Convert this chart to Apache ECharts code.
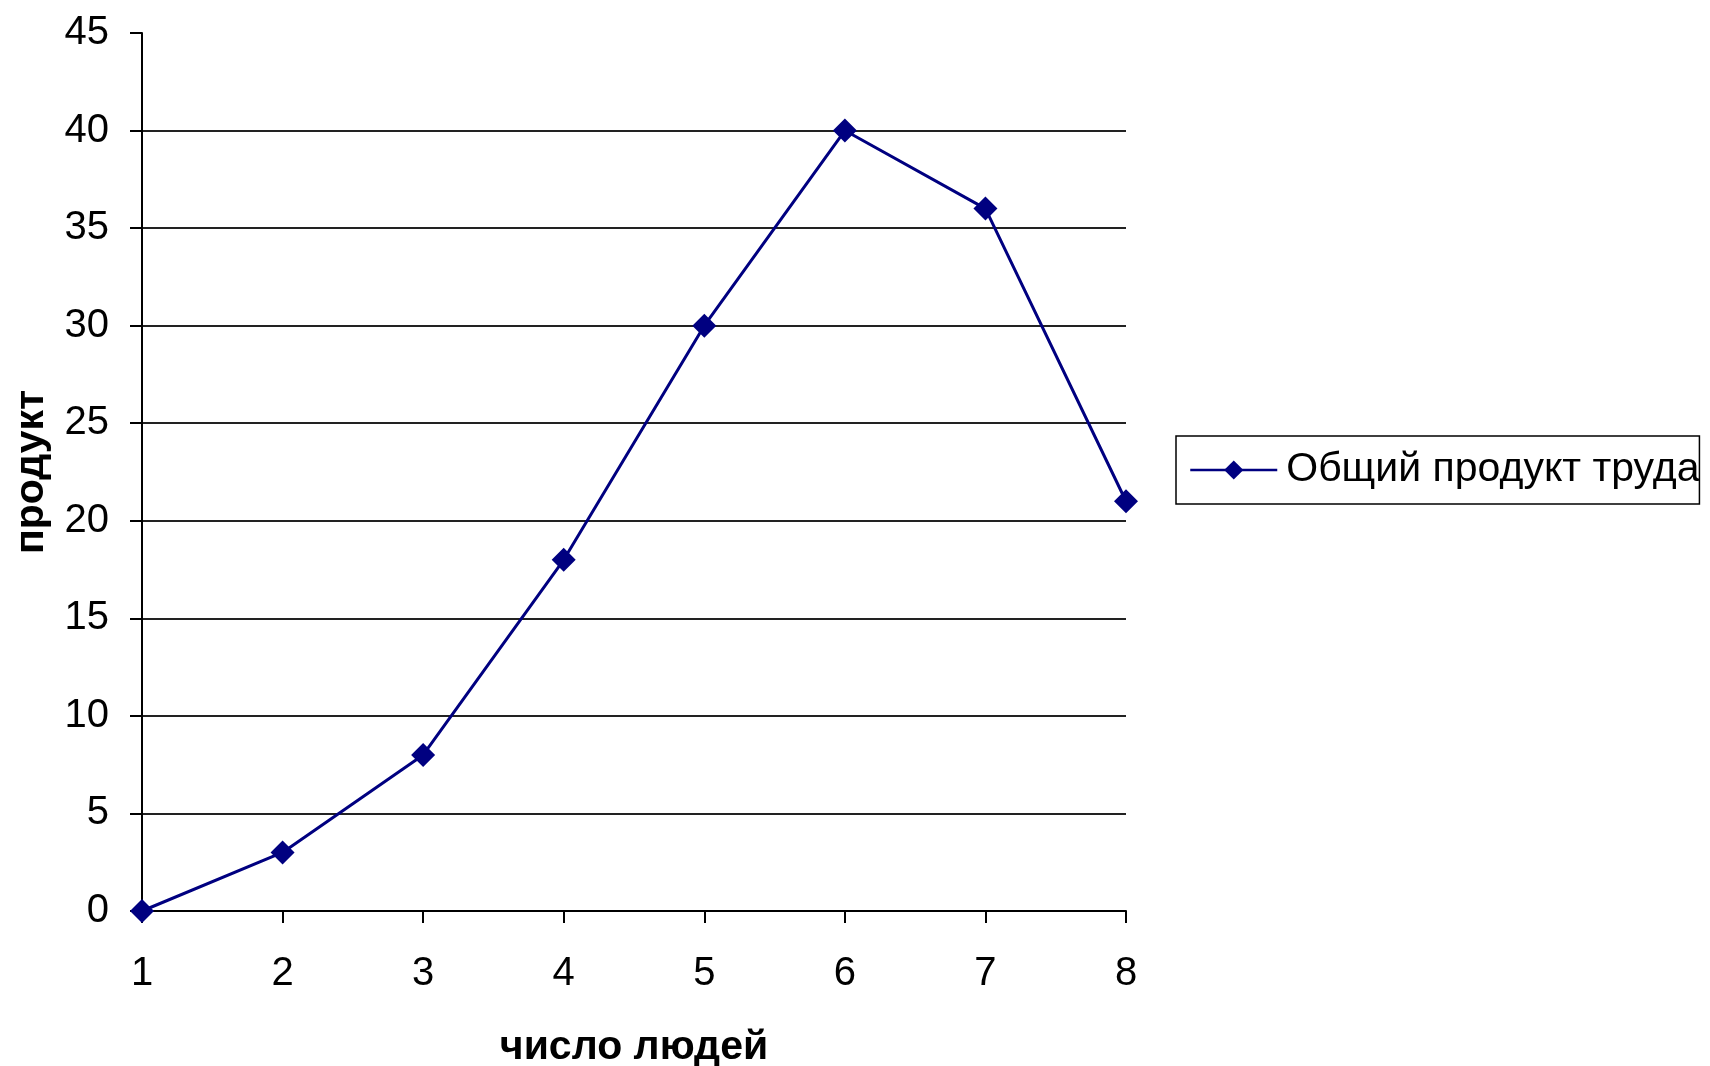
<!DOCTYPE html>
<html>
<head>
<meta charset="utf-8">
<script src="https://cdn.jsdelivr.net/npm/echarts@6/dist/echarts.min.js"></script>
<style>
html,body{margin:0;padding:0;background:#fff;}
#chart{width:1710px;height:1066px;}
</style>
</head>
<body>
<div id="chart"></div>
<script>
const categories = ['1','2','3','4','5','6','7','8'];
const totalProduct = [0, 3, 8, 18, 30, 40, 36, 21];
const seriesName = 'Общий продукт труда';
const xAxisName = 'число людей';
const yAxisName = 'продукт';

const FONT = '"Liberation Sans", Arial, sans-serif';
const chart = echarts.init(document.getElementById('chart'), null, {renderer: 'canvas'});
chart.setOption({
  animation: false,
  backgroundColor: '#ffffff',
  grid: {left: 142, right: 584, top: 33, bottom: 155, containLabel: false, outerBoundsMode: 'none'},
  legend: {
    show: true,
    data: [seriesName],
    left: 1176,
    top: 436,
    orient: 'vertical',
    padding: [12, 0, 12, 13],
    borderColor: '#000',
    borderWidth: 1.5,
    backgroundColor: '#fff',
    itemWidth: 87,
    itemHeight: 24,
    textStyle: {fontFamily: FONT, fontSize: 41, color: '#000', lineHeight: 44, padding: [0, 0, 0, 4]},
    lineStyle: {width: 2.5}
  },
  xAxis: {
    type: 'category',
    data: categories,
    boundaryGap: false,
    name: xAxisName,
    nameLocation: 'middle',
    nameGap: 116,
    nameTextStyle: {fontFamily: FONT, fontSize: 41, fontWeight: 'bold', color: '#000'},
    axisLine: {show: true, lineStyle: {color: '#000', width: 2}},
    axisTick: {show: true, length: 12, lineStyle: {color: '#000', width: 2}},
    axisLabel: {fontFamily: FONT, fontSize: 40, color: '#000', margin: 43, lineHeight: 40},
    splitLine: {show: false}
  },
  yAxis: {
    type: 'value',
    min: 0,
    max: 45,
    interval: 5,
    name: yAxisName,
    nameLocation: 'middle',
    nameGap: 90,
    nameRotate: 90,
    nameTextStyle: {fontFamily: FONT, fontSize: 41, fontWeight: 'bold', color: '#000'},
    axisLine: {show: true, lineStyle: {color: '#000', width: 2}},
    axisTick: {show: true, length: 12, lineStyle: {color: '#000', width: 2}},
    axisLabel: {fontFamily: FONT, fontSize: 40, color: '#000', margin: 33},
    splitLine: {show: true, showMinLine: false, showMaxLine: false, lineStyle: {color: '#222', width: 2}}
  },
  series: [{
    name: seriesName,
    type: 'line',
    data: totalProduct,
    symbol: 'diamond',
    symbolSize: 24,
    showAllSymbol: true,
    lineStyle: {color: '#000080', width: 3},
    itemStyle: {color: '#000080'},
    emphasis: {disabled: true}
  }]
});
</script>
</body>
</html>
